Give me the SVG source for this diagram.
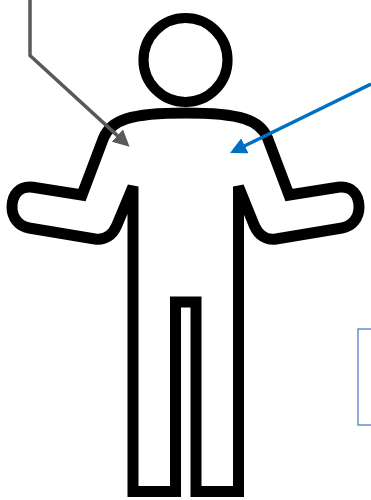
<svg xmlns="http://www.w3.org/2000/svg" width="371" height="500" viewBox="0 0 371 500">
  <style>
    .fig { fill: #fff; stroke: #000; stroke-width: 11; stroke-miterlimit: 4; }
    .conn { fill: none; stroke-width: 3.5; }
  </style>
  <defs>
    <marker id="ag" viewBox="0 0 10 10" refX="2.7" refY="5" markerWidth="4.7" markerHeight="4.7" orient="auto"><path d="M0 0L10 5L0 10Z" fill="#595959"/></marker>
    <marker id="ab" viewBox="0 0 10 10" refX="2.7" refY="5" markerWidth="4.7" markerHeight="4.7" orient="auto"><path d="M0 0L10 5L0 10Z" fill="#0070C0"/></marker>
  </defs>
  <rect width="371" height="500" fill="#fff"/>
  <g id="figure">
    <circle class="fig" style="stroke-width:10.2" cx="185.5" cy="60" r="42"/>
    <path class="fig" d="M133 186.500L116.500 226C112.500 235 105 240.500 95 239L29 228C19 226.500 12 218 12 207C12 195 19 185.500 33 187.300L82 195L103.500 138C111 120 130 113 185.500 113C241 113 260 120 267.500 138L289 195L338 187.300C352 185.500 359 195 359 207C359 218 352 226.500 342 228L276 239C266 240.500 258.500 235 254.500 226L238.500 186.500V491.500H196V302H175.500V491.500H133Z"/>
  </g>
  <g id="box">
    <rect x="358" y="329" width="30" height="96" fill="none" stroke="#4472C4" stroke-width="1.2"/>
  </g>
  <g id="connectors">
    <path class="conn" stroke="#595959" marker-end="url(#ag)" d="M30 0V55.500L120.700 138.600"/>
    <path class="conn" stroke="#0070C0" marker-end="url(#ab)" d="M371 84L240.800 147.700"/>
  </g>
</svg>
